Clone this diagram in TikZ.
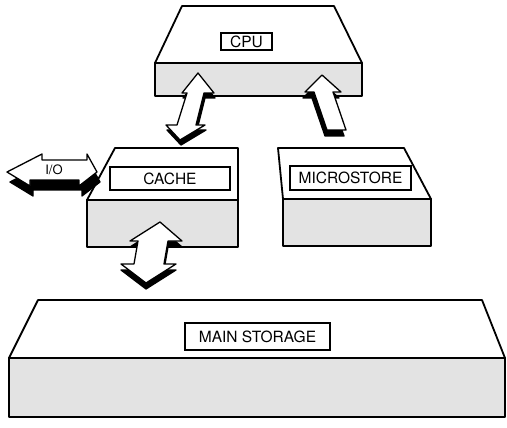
\documentclass[tikz,border=0pt]{standalone}
\usepackage{fontspec}
\setmainfont{TeX Gyre Heros}
\begin{document}
\begin{tikzpicture}[x=1pt,y=-1pt,
  edge/.style={line width=1.8pt, line join=round},
  topface/.style={edge, fill=white},
  frontface/.style={edge, fill=black!11},
  lbl/.style={draw, line width=1.2pt, fill=white, inner sep=0pt, font=\fontsize{15.5}{18}\selectfont},
  arrowface/.style={draw, line width=1.3pt, fill=white, line join=round},
  arrowside/.style={fill=black, draw=black, line width=1.3pt, line join=round}]
\useasboundingbox (0,0) rectangle (507,428);

% CPU block
\draw[topface] (182,6) -- (334,6) -- (362,63) -- (155,63) -- cycle;
\draw[frontface] (155,63) rectangle (362,96);
\node[lbl, minimum width=51pt, minimum height=17pt] (cpu) at (246.5,41.5) {CPU};

% Cache block
\draw[topface] (115,148) -- (238,148) -- (238,200) -- (87,200) -- cycle;
\draw[frontface] (87,200) rectangle (238,247);
\node[lbl, minimum width=120pt, minimum height=23pt] (cache) at (170,178.5) {CACHE};

% Microstore block
\draw[topface] (278,148) -- (404,148) -- (431,199) -- (283,199) -- cycle;
\draw[frontface] (283,199) rectangle (431,246);
\node[lbl, minimum width=121pt, minimum height=24pt] (micro) at (350.5,178) {MICROSTORE};

% Main storage block
\draw[topface] (38,300) -- (482,300) -- (505,358) -- (9,358) -- cycle;
\draw[frontface] (9,358) rectangle (505,417);
\node[lbl, minimum width=145pt, minimum height=27pt] (main) at (257.5,336.5) {MAIN STORAGE};

% arrow shapes
\def\arrCpuCache{(198,73) -- (214,93) -- (204,93) -- (196,125) -- (205,125) -- (180,140) -- (166,125) -- (177,125) -- (187,93) -- (182,93) -- cycle}
\def\arrMicroCpu{(322,75) -- (341,92) -- (333,92) -- (346,130) -- (327,130) -- (314,92) -- (305,92) -- cycle}
\def\arrCacheMain{(160,222) -- (182,241) -- (168,241) -- (164,264) -- (176,264) -- (146,283) -- (121,264) -- (134,264) -- (138,241) -- (130,241) -- cycle}
\def\arrIO{(7,172) -- (42,154) -- (42,160) -- (87,160) -- (87,154) -- (97,172) -- (79,186) -- (79,180) -- (30,180) -- (30,186) -- cycle}

\draw[arrowside, shift={(1,5)}] \arrCpuCache;
\draw[arrowface] \arrCpuCache;
\draw[arrowside, shift={(-2,6)}] \arrMicroCpu;
\draw[arrowface] \arrMicroCpu;
\draw[arrowside, shift={(0,6)}] \arrCacheMain;
\draw[arrowface] \arrCacheMain;
\draw[arrowside, shift={(3,10)}] \arrIO;
\draw[arrowface] \arrIO;
\node[font=\fontsize{13}{15}\selectfont, inner sep=0pt] (io) at (54,170) {I/O};
\end{tikzpicture}
\end{document}
